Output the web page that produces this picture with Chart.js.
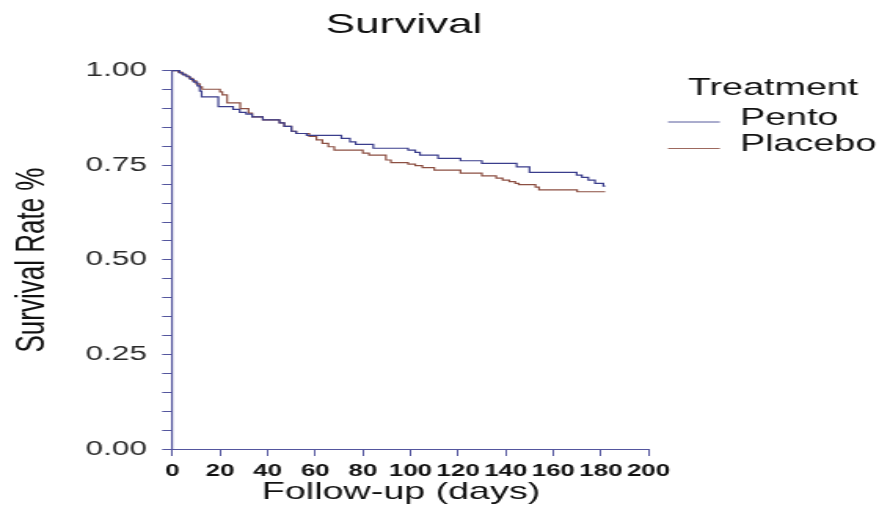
<!DOCTYPE html>
<html>
<head>
<meta charset="utf-8">
<script src="https://cdn.jsdelivr.net/npm/chart.js@4/dist/chart.umd.min.js"></script>
<style>
  html, body { margin: 0; padding: 0; background: #ffffff; overflow: hidden; }
  /* the chart is laid out on a narrower canvas and widened to the page */
  #wrap { position: absolute; left: 0; top: 0; width: 560px; height: 505px;
          transform: scaleX(1.5696); transform-origin: 0 0; }
</style>
</head>
<body>
<div id="wrap"><canvas id="km"></canvas></div>
<script>
// Kaplan-Meier estimates: day of each drop and survival after it
const pentoDays = [0, 3.0, 4.5, 6.0, 7.5, 9.0, 10.5, 11.5, 12.3, 19.3, 25.5, 28.3, 31.0, 33.5, 38.0, 45.0, 47.0, 50.0, 52.0, 56.4, 71.0, 74.6, 77.0, 84.4, 99.0, 102.0, 104.0, 111.6, 121.0, 130.0, 144.6, 150.0, 169.8, 172.0, 174.7, 177.5, 181.0, 181.8];
const pentoSurvival = [1.000, 0.994, 0.989, 0.984, 0.977, 0.970, 0.960, 0.946, 0.931, 0.905, 0.898, 0.890, 0.885, 0.878, 0.870, 0.862, 0.853, 0.840, 0.834, 0.829, 0.821, 0.812, 0.805, 0.795, 0.790, 0.784, 0.777, 0.768, 0.762, 0.755, 0.746, 0.731, 0.724, 0.718, 0.711, 0.702, 0.695, 0.695];

const placeboDays = [0, 2.5, 4.0, 5.5, 7.0, 8.5, 10.0, 11.5, 12.5, 20.0, 21.0, 23.0, 28.5, 32.0, 33.5, 38.0, 45.0, 47.0, 50.0, 52.0, 57.5, 60.5, 63.0, 65.5, 68.0, 80.0, 82.6, 89.7, 91.8, 99.0, 102.0, 105.0, 110.0, 121.0, 130.0, 136.0, 138.7, 141.5, 144.0, 145.5, 152.5, 154.0, 170.0, 181.8];
const placeboSurvival = [1.000, 0.996, 0.991, 0.986, 0.980, 0.973, 0.965, 0.957, 0.951, 0.944, 0.936, 0.915, 0.900, 0.888, 0.878, 0.870, 0.862, 0.853, 0.840, 0.834, 0.826, 0.817, 0.808, 0.799, 0.790, 0.782, 0.777, 0.764, 0.757, 0.753, 0.749, 0.744, 0.737, 0.729, 0.722, 0.716, 0.711, 0.707, 0.702, 0.699, 0.692, 0.685, 0.680, 0.680];

const groupNames = ['Pento', 'Placebo'];
const groupColors = ['#3a3d8c', '#8c4f42'];

const chartTitle = 'Survival';
const xTitle = 'Follow-up (days)';
const yTitle = 'Survival Rate %';
const legendTitle = 'Treatment';

const FONT = '"Liberation Sans", Arial, Helvetica, sans-serif';
const AXIS_COLOR = '#54569e';

const toPoints = (days, surv) => days.map((d, i) => ({ x: d, y: surv[i] }));

// titles and the treatment key
const annotations = {
  id: 'annotations',
  afterDraw(chart) {
    const ctx = chart.ctx;
    ctx.save();
    ctx.fillStyle = '#111111';
    ctx.textAlign = 'center';
    ctx.textBaseline = 'alphabetic';
    ctx.font = '28px ' + FONT;
    ctx.fillText(chartTitle, 257.4, 32.7);

    ctx.font = '24px ' + FONT;
    ctx.fillText(xTitle, 255.5, 498.5);

    ctx.save();
    ctx.translate(27.6, 260);
    ctx.rotate(-Math.PI / 2);
    ctx.font = '26px ' + FONT;
    ctx.fillText(yTitle, 0, 0);
    ctx.restore();

    ctx.textAlign = 'left';
    ctx.font = '24px ' + FONT;
    ctx.fillText(legendTitle, 438.3, 95);
    const baselines = [124.5, 151];
    chart.data.datasets.forEach((ds, i) => {
      ctx.strokeStyle = ds.borderColor;
      ctx.globalAlpha = 0.85;
      ctx.lineWidth = 1;
      ctx.beginPath();
      ctx.moveTo(425.6, baselines[i] - 2.5);
      ctx.lineTo(458.6, baselines[i] - 2.5);
      ctx.stroke();
      ctx.globalAlpha = 1;
      ctx.fillStyle = '#111111';
      ctx.fillText(ds.label, 471.5, baselines[i]);
    });
    ctx.restore();
  }
};

new Chart(document.getElementById('km'), {
  type: 'line',
  data: {
    datasets: [
      { label: groupNames[0], data: toPoints(pentoDays, pentoSurvival), borderColor: groupColors[0] },
      { label: groupNames[1], data: toPoints(placeboDays, placeboSurvival), borderColor: groupColors[1] }
    ].map(ds => Object.assign(ds, {
      stepped: 'before', borderWidth: 1.2, pointRadius: 0, fill: false, clip: false, tension: 0
    }))
  },
  options: {
    responsive: true,
    maintainAspectRatio: false,
    animation: false,
    layout: { padding: { top: 70.7, right: 146.8, left: 0, bottom: 0 } },
    plugins: { legend: { display: false }, title: { display: false }, tooltip: { enabled: false } },
    scales: {
      x: {
        type: 'linear',
        min: 0, max: 200,
        afterFit(scale) { scale.height = 56; },
        border: { display: true, color: AXIS_COLOR, width: 1 },
        grid: { drawOnChartArea: false, drawTicks: true, tickLength: 7, color: AXIS_COLOR, tickColor: AXIS_COLOR, tickWidth: 1 },
        ticks: {
          stepSize: 20, padding: 6, maxRotation: 0, autoSkip: false,
          color: '#111111',
          font: { family: FONT, size: 16.5, weight: 'bold' }
        }
      },
      y: {
        type: 'linear',
        min: 0, max: 1,
        afterFit(scale) { scale.width = 109.8; },
        border: { display: true, color: AXIS_COLOR, width: 1.2 },
        grid: { drawOnChartArea: false, drawTicks: true, tickLength: 6.5, color: AXIS_COLOR, tickColor: AXIS_COLOR, tickWidth: 1 },
        ticks: {
          stepSize: 0.05, padding: 9.8, autoSkip: false,
          color: '#2a2a2a',
          font: { family: FONT, size: 20 },
          callback(v) { return Math.round(v * 100) % 25 === 0 ? v.toFixed(2) : ''; }
        }
      }
    }
  },
  plugins: [annotations]
});
</script>
</body>
</html>
